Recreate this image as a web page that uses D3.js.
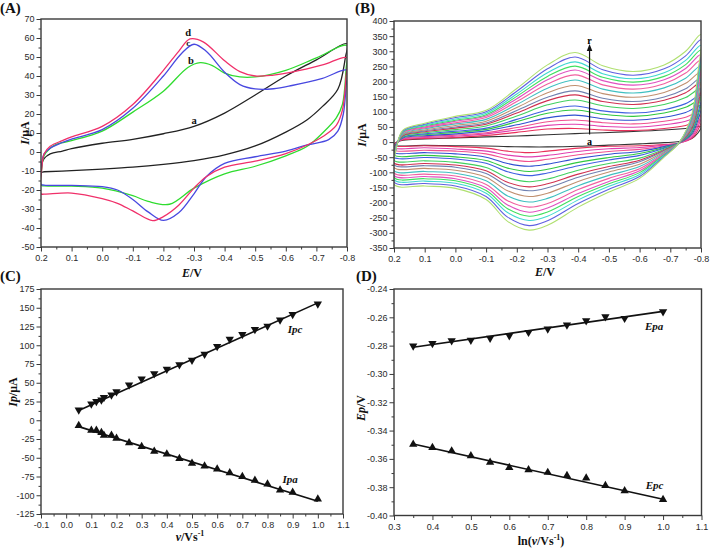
<!DOCTYPE html>
<html><head><meta charset="utf-8">
<script src="https://cdn.jsdelivr.net/npm/d3@7"></script>
<style>body{margin:0;background:#fff}</style>
</head><body><svg id="c" width="710" height="550"></svg>
<script>
// ---------------- Panel A data (E in V, I in µA) ----------------
const aXTicks = [0.2,0.1,0.0,-0.1,-0.2,-0.3,-0.4,-0.5,-0.6,-0.7,-0.8];
const aYTicks = [-50,-40,-30,-20,-10,0,10,20,30,40,50,60,70];
const cvA_a = [[0.2,-10.5],[0.197,-6],[0.19,-3.5],[0.17,-1],[0.13,0.5],[0.1,1.8],[0.0,4.6],[-0.1,6.7],[-0.2,9.6],[-0.3,13.5],[-0.4,20.5],[-0.5,30],[-0.6,40],[-0.7,48.5],[-0.8,57],
  [-0.795,50],[-0.77,33],[-0.72,24],[-0.67,17],[-0.6,10.5],[-0.5,3.2],[-0.4,-1.5],[-0.3,-4.5],[-0.2,-6.5],[-0.1,-8],[0.0,-9],[0.1,-9.8],[0.19,-10.4]];
const cvA_b = [[0.2,-17.5],[0.197,-8],[0.19,-2],[0.17,2],[0.15,4],[0.1,6],[0.0,11],[-0.1,21],[-0.2,32],[-0.28,44.5],[-0.32,47],[-0.36,45.5],[-0.4,41.5],[-0.45,39.5],[-0.5,39.5],[-0.6,43],[-0.7,49.5],[-0.8,56],
  [-0.797,44],[-0.785,25],[-0.765,18],[-0.72,10],[-0.67,3],[-0.6,-2],[-0.5,-7.5],[-0.4,-11.5],[-0.3,-19],[-0.22,-27.5],[-0.15,-26],[-0.1,-23],[0.0,-19],[0.1,-18],[0.19,-17.8]];
const cvA_c = [[0.2,-17],[0.197,-6],[0.19,-1],[0.17,2],[0.13,5],[0.1,6.8],[0.0,11.8],[-0.1,23],[-0.2,40],[-0.26,52],[-0.3,56.7],[-0.34,53],[-0.4,42],[-0.45,35.5],[-0.5,33.2],[-0.56,33.3],[-0.62,35],[-0.72,38.8],[-0.8,43],
  [-0.797,35],[-0.788,20],[-0.77,11],[-0.74,6.5],[-0.67,3.7],[-0.6,0.5],[-0.5,-2.5],[-0.4,-6],[-0.34,-13],[-0.3,-22],[-0.25,-32],[-0.2,-36],[-0.15,-31.5],[-0.1,-25],[-0.05,-20],[0.0,-18.2],[0.1,-17.6],[0.19,-17.4]];
const cvA_d = [[0.2,-22],[0.197,-8],[0.19,-1],[0.17,3],[0.13,6],[0.1,8],[0.0,13.5],[-0.1,25],[-0.2,43],[-0.25,53],[-0.287,59.5],[-0.33,58],[-0.4,48],[-0.45,42.3],[-0.5,40],[-0.56,40.5],[-0.62,42],[-0.72,45.8],[-0.8,49.6],
  [-0.797,40],[-0.785,22],[-0.765,14],[-0.72,8],[-0.67,3.7],[-0.6,-0.8],[-0.5,-4.8],[-0.4,-8],[-0.34,-13],[-0.3,-19],[-0.25,-28],[-0.2,-34],[-0.165,-36.1],[-0.1,-31],[-0.05,-27],[0.0,-24.5],[0.1,-21.6],[0.19,-22.2]];
const aNames = ["a","b","c","d"];
const aColors = ["#222222","#2fdc2f","#4848e0","#f0306a"];
const aLabelPos = [[-0.30,14.7],[-0.29,46.3],[-0.281,56.0],[-0.281,61.0]];

// ---------------- Panel B data ----------------
const bXTicks = [0.2,0.1,0.0,-0.1,-0.2,-0.3,-0.4,-0.5,-0.6,-0.7,-0.8];
const bYTicks = [-350,-300,-250,-200,-150,-100,-50,0,50,100,150,200,250,300,350,400];
const bUpE = [0.2,0.19,0.17,0.1,0.0,-0.1,-0.2,-0.3,-0.39,-0.48,-0.58,-0.68,-0.75,-0.8];
const bLoE = [-0.8,-0.79,-0.77,-0.73,-0.68,-0.6,-0.5,-0.4,-0.3,-0.24,-0.17,-0.1,0.0,0.1,0.2];
const bUp_a = [-10,0,6,10,14,17,20,24,28,31,35,40,45,50];
const bLo_a = [50,30,12,2,-2,-6,-10,-14,-16,-16,-15,-13,-12,-11,-10];
const bUp_b = [-12,0,8,12,15,22,32,43,45,40,38,45,55,70];
const bLo_b = [70,40,12,-3,-8,-12,-14,-20,-30,-35,-30,-20,-15,-12,-12];
const bUp_c = [-19,-1,10,15,19,27,40,55,59,52,49,57,69,86];
const bLo_c = [86,51,16,-3,-10,-18,-22,-31,-44,-49,-43,-30,-23,-19,-19];
const bUp_d = [-26,-1,12,18,23,31,48,67,73,64,60,69,82,102];
const bLo_d = [102,61,21,-3,-13,-24,-31,-42,-57,-64,-56,-39,-30,-27,-26];
const bUp_e = [-34,-2,14,21,27,37,57,80,89,77,72,82,98,120];
const bLo_e = [120,73,26,-2,-15,-31,-40,-54,-73,-80,-71,-50,-39,-35,-34];
const bUp_f = [-43,-2,16,24,32,42,67,95,106,92,85,96,115,139];
const bLo_f = [139,86,31,-2,-18,-38,-51,-67,-90,-97,-86,-61,-49,-44,-43];
const bUp_g = [-50,-3,17,27,36,46,75,106,119,103,96,107,127,154];
const bLo_g = [154,96,35,-2,-20,-44,-59,-78,-102,-111,-98,-70,-56,-51,-50];
const bUp_h = [-60,-4,20,31,41,53,86,123,139,120,111,124,147,177];
const bLo_h = [177,111,41,-2,-24,-53,-71,-93,-122,-131,-117,-84,-67,-62,-60];
const bUp_i = [-69,-4,22,34,46,59,96,137,156,134,124,138,163,196];
const bLo_i = [196,124,46,-2,-27,-60,-81,-106,-138,-148,-133,-95,-76,-71,-69];
const bUp_j = [-75,-5,24,37,50,63,104,148,169,145,134,149,176,211];
const bLo_j = [211,134,51,-2,-29,-65,-89,-116,-151,-161,-145,-104,-83,-78,-75];
const bUp_k = [-84,-6,26,40,55,69,114,163,187,160,148,164,194,231];
const bLo_k = [231,148,56,-1,-32,-73,-99,-130,-169,-180,-161,-116,-93,-87,-84];
const bUp_l = [-94,-6,28,44,60,75,124,178,205,175,162,179,211,252];
const bLo_l = [252,161,62,-1,-35,-81,-110,-144,-186,-198,-178,-128,-103,-97,-94];
const bUp_m = [-102,-7,31,47,64,81,134,192,222,189,175,193,228,271];
const bLo_m = [271,174,67,-1,-38,-88,-120,-157,-203,-215,-194,-140,-112,-106,-102];
const bUp_n = [-110,-8,33,50,69,86,143,206,238,203,188,206,243,289];
const bLo_n = [289,186,72,-1,-40,-95,-130,-170,-218,-232,-208,-151,-121,-114,-110];
const bUp_o = [-117,-8,34,53,72,90,151,217,251,214,198,217,256,304];
const bLo_o = [304,196,76,-1,-42,-101,-138,-180,-231,-245,-220,-160,-128,-121,-117];
const bUp_p = [-124,-9,36,56,76,95,159,229,265,226,209,229,270,320];
const bLo_p = [320,206,80,0,-45,-107,-146,-191,-245,-259,-233,-169,-136,-129,-124];
const bUp_q = [-132,-9,38,59,81,100,168,242,281,239,221,242,285,338];
const bLo_q = [338,219,85,0,-47,-114,-156,-203,-260,-276,-248,-180,-145,-137,-132];
const bUp_r = [-140,-10,40,62,85,105,177,255,296,252,233,255,300,355];
const bLo_r = [355,230,90,0,-50,-120,-165,-215,-275,-291,-262,-190,-153,-145,-140];
const bUps = [bUp_a,bUp_b,bUp_c,bUp_d,bUp_e,bUp_f,bUp_g,bUp_h,bUp_i,bUp_j,bUp_k,bUp_l,bUp_m,bUp_n,bUp_o,bUp_p,bUp_q,bUp_r];
const bLos = [bLo_a,bLo_b,bLo_c,bLo_d,bLo_e,bLo_f,bLo_g,bLo_h,bLo_i,bLo_j,bLo_k,bLo_l,bLo_m,bLo_n,bLo_o,bLo_p,bLo_q,bLo_r];
const bColors = ["#333333","#e8305a","#e040b0","#f05090","#3050d0","#30c840","#4060e0","#40d060","#d03050","#7080b0","#c09070","#40c0c0","#f060a0","#e050c0","#40e060","#40d8d0","#6060e0","#b0e070"];
const bArrowE = -0.437, bArrowFrom = 25, bArrowTo = 312;

// ---------------- Panel C data ----------------
const cXTicks = [-0.1,0.0,0.1,0.2,0.3,0.4,0.5,0.6,0.7,0.8,0.9,1.0,1.1];
const cYTicks = [-125,-100,-75,-50,-25,0,25,50,75,100,125,150,175];
const cScan = [0.05,0.1,0.12,0.14,0.15,0.18,0.2,0.25,0.3,0.35,0.4,0.45,0.5,0.55,0.6,0.65,0.7,0.75,0.8,0.85,0.9,1.0];
const cIpc = [13.7,21.7,25,27,30.5,33.7,38,47,55,62,68,74,80,88,98.5,108,114.5,121,125.6,133.7,141,155];
const cIpa = [-7,-13.4,-13.5,-16.5,-20,-20,-24,-30,-35,-41.5,-45,-51,-57.4,-61,-65,-70,-75,-80,-85,-93,-96,-105];
const cIpcFit = [[0.05,13],[1.0,156.5]];
const cIpaFit = [[0.05,-8.5],[1.0,-108]];

// ---------------- Panel D data ----------------
const dXTicks = [0.3,0.4,0.5,0.6,0.7,0.8,0.9,1.0,1.1];
const dYTicks = [-0.40,-0.38,-0.36,-0.34,-0.32,-0.30,-0.28,-0.26,-0.24];
const dLnV = [0.35,0.4,0.45,0.5,0.55,0.6,0.65,0.7,0.75,0.8,0.85,0.9,1.0];
const dEpa = [-0.2802,-0.2784,-0.2765,-0.2762,-0.2748,-0.2729,-0.2706,-0.2682,-0.2654,-0.2624,-0.2595,-0.2607,-0.2560];
const dEpc = [-0.3497,-0.3520,-0.3544,-0.3579,-0.3624,-0.3661,-0.3678,-0.3696,-0.3718,-0.3736,-0.3788,-0.3826,-0.3887];
const dEpaFit = [[0.35,-0.2812],[1.0,-0.2558]];
const dEpcFit = [[0.35,-0.3495],[1.0,-0.3885]];

// ---------------- drawing ----------------
const svg = d3.select("#c");
const SANS = "'Liberation Sans', Arial, Helvetica, sans-serif";
const SERIF = "'Liberation Serif', 'Times New Roman', Times, serif";
const AX = "#3a3a3a";

function minorsOf(ticks){
  const out=[];
  for(let i=0;i<ticks.length-1;i++) out.push((ticks[i]+ticks[i+1])/2);
  return out;
}
let clipId=0;
function makePanel(o){
  const x = d3.scaleLinear().domain(o.xd).range([o.x0,o.x1]);
  const y = d3.scaleLinear().domain(o.yd).range([o.y1,o.y0]);
  const id = "clip"+(clipId++);
  svg.append("clipPath").attr("id",id).append("rect")
    .attr("x",o.x0).attr("y",o.y0).attr("width",o.x1-o.x0).attr("height",o.y1-o.y0);
  const data = svg.append("g").attr("clip-path",`url(#${id})`);
  return {x,y,data,o};
}
function drawFrame(P){
  const {x,y,o} = P;
  const g = svg.append("g");
  const fix = s => {
    s.select(".domain").remove();
    s.selectAll("line").attr("stroke",AX).attr("stroke-width",1);
    s.selectAll("text").attr("font-family",SANS).attr("font-size",9).attr("fill","#2a2a2a");
  };
  g.append("g").attr("transform",`translate(0,${o.y1})`)
    .call(d3.axisBottom(x).tickValues(minorsOf(o.xt)).tickSize(2.5).tickFormat("")).call(fix);
  g.append("g").attr("transform",`translate(0,${o.y1})`)
    .call(d3.axisBottom(x).tickValues(o.xt).tickSize(4.5).tickPadding(3.5).tickFormat(o.xf)).call(fix);
  g.append("g").attr("transform",`translate(${o.x0},0)`)
    .call(d3.axisLeft(y).tickValues(minorsOf(o.yt)).tickSize(2.5).tickFormat("")).call(fix);
  g.append("g").attr("transform",`translate(${o.x0},0)`)
    .call(d3.axisLeft(y).tickValues(o.yt).tickSize(4.5).tickPadding(2).tickFormat(o.yf)).call(fix);
  g.append("rect").attr("x",o.x0).attr("y",o.y0).attr("width",o.x1-o.x0).attr("height",o.y1-o.y0)
    .attr("fill","none").attr("stroke",AX).attr("stroke-width",1.4);
}
const f1 = d => (Math.abs(d)<1e-9?0:d).toFixed(1);
const f0 = d => String(Math.round(d));
const f2 = d => d.toFixed(2);

function title(x,y,parts,rot){
  const t = svg.append("text").attr("font-family",SERIF).attr("font-weight","bold").attr("font-size",12)
    .attr("fill","#111").attr("text-anchor","middle");
  if(rot) t.attr("transform",`translate(${x},${y}) rotate(-90)`); else t.attr("x",x).attr("y",y);
  parts.forEach(p=>{
    const s = t.append("tspan").text(p.t);
    if(p.i) s.attr("font-style","italic");
    if(p.sup) s.attr("font-size",8).attr("dy",-5);
    if(p.down) s.attr("dy",5);
  });
}
function panelLabel(x,y,txt){
  svg.append("text").attr("x",x).attr("y",y).attr("font-family",SERIF).attr("font-weight","bold")
    .attr("font-size",15).attr("fill","#111").text(txt);
}

// ---- Panel A ----
const PA = makePanel({x0:41,x1:347,y0:19,y1:247,xd:[0.2,-0.8],yd:[-50,70],xt:aXTicks,yt:aYTicks,xf:f1,yf:f0});
const loop = (X,Y) => d3.line().x(d=>X(d[0])).y(d=>Y(d[1])).curve(d3.curveCatmullRomClosed.alpha(0.5));
[cvA_a,cvA_b,cvA_c,cvA_d].forEach((cv,i)=>{
  PA.data.append("path").attr("d",loop(PA.x,PA.y)(cv)).attr("fill","none")
    .attr("stroke",aColors[i]).attr("stroke-width",1.3);
});
drawFrame(PA);
aNames.forEach((n,i)=>{
  svg.append("text").attr("x",PA.x(aLabelPos[i][0])).attr("y",PA.y(aLabelPos[i][1]))
    .attr("font-family",SERIF).attr("font-weight","bold").attr("font-size",n==="c"?9:10.5).attr("fill","#111")
    .attr("text-anchor","middle").text(n);
});
panelLabel(0,13,"(A)");
title(192,277,[{t:"E",i:1},{t:"/V"}]);
title(29,133,[{t:"I",i:1},{t:"/μA"}],true);

// ---- Panel B ----
const PB = makePanel({x0:394,x1:701,y0:21,y1:248,xd:[0.2,-0.8],yd:[-350,400],xt:bXTicks,yt:bYTicks,xf:f1,yf:f0});
bUps.forEach((up,i)=>{
  const lo = bLos[i];
  const pts = bUpE.map((e,j)=>[e,up[j]]).concat(bLoE.slice(1,-1).map((e,j)=>[e,lo[j+1]]));
  PB.data.append("path").attr("d",loop(PB.x,PB.y)(pts)).attr("fill","none")
    .attr("stroke",bColors[i]).attr("stroke-width",1.1);
});
drawFrame(PB);
svg.append("defs").append("marker").attr("id","arr").attr("viewBox","0 0 10 10").attr("refX",5).attr("refY",5)
  .attr("markerWidth",6).attr("markerHeight",7).attr("orient","auto")
  .append("path").attr("d","M0,1 L10,5 L0,9 Z").attr("fill","#111");
svg.append("line").attr("x1",PB.x(bArrowE)).attr("x2",PB.x(bArrowE))
  .attr("y1",PB.y(bArrowFrom)).attr("y2",PB.y(bArrowTo)).attr("stroke","#111").attr("stroke-width",1.2)
  .attr("marker-end","url(#arr)");
svg.append("text").attr("x",PB.x(bArrowE)).attr("y",PB.y(bArrowTo)-4).attr("text-anchor","middle")
  .attr("font-family",SERIF).attr("font-weight","bold").attr("font-size",10).text("r");
svg.append("text").attr("x",PB.x(bArrowE)).attr("y",PB.y(bArrowFrom)+10).attr("text-anchor","middle")
  .attr("font-family",SERIF).attr("font-weight","bold").attr("font-size",10).text("a");
panelLabel(355,13,"(B)");
title(545,276,[{t:"E",i:1},{t:"/V"}]);
title(366,135,[{t:"I",i:1},{t:"/μA"}],true);

// ---- Panel C ----
const PC = makePanel({x0:41,x1:343,y0:289,y1:514,xd:[-0.1,1.1],yd:[-125,175],xt:cXTicks,yt:cYTicks,xf:f1,yf:f0});
const seg = (P,fit)=> P.data.append("line").attr("x1",P.x(fit[0][0])).attr("y1",P.y(fit[0][1]))
  .attr("x2",P.x(fit[1][0])).attr("y2",P.y(fit[1][1])).attr("stroke","#111").attr("stroke-width",1.6);
const tri = d3.symbol(d3.symbolTriangle,30);
function markers(P,xs,ys,down){
  P.data.selectAll(null).data(xs).join("path").attr("d",tri)
    .attr("transform",(d,i)=>`translate(${P.x(d)},${P.y(ys[i])})${down?" rotate(180)":""}`)
    .attr("fill","#111");
}
seg(PC,cIpcFit); seg(PC,cIpaFit);
markers(PC,cScan,cIpc,true); markers(PC,cScan,cIpa,false);
drawFrame(PC);
const italicLabel=(x,y,t)=>svg.append("text").attr("x",x).attr("y",y).attr("font-family",SERIF)
  .attr("font-weight","bold").attr("font-style","italic").attr("font-size",11).attr("fill","#111").text(t);
italicLabel(PC.x(0.88),PC.y(116),"Ipc");
italicLabel(PC.x(0.86),PC.y(-83),"Ipa");
panelLabel(0,281,"(C)");
title(190,541,[{t:"v",i:1},{t:"/Vs"},{t:"-1",sup:1}]);
title(17,392,[{t:"Ip",i:1},{t:"/μA"}],true);

// ---- Panel D ----
const PD = makePanel({x0:394,x1:701.5,y0:289,y1:515.5,xd:[0.3,1.1],yd:[-0.40,-0.24],xt:dXTicks,yt:dYTicks,xf:f1,yf:f2});
seg(PD,dEpaFit); seg(PD,dEpcFit);
markers(PD,dLnV,dEpa,true); markers(PD,dLnV,dEpc,false);
drawFrame(PD);
italicLabel(PD.x(0.953),PD.y(-0.2689),"Epa");
italicLabel(PD.x(0.955),PD.y(-0.3812),"Epc");
panelLabel(356,281,"(D)");
title(541,545,[{t:"ln("},{t:"v",i:1},{t:"/Vs"},{t:"-1",sup:1},{t:")",down:1}]);
title(365,408,[{t:"Ep",i:1},{t:"/V"}],true);
</script></body></html>
